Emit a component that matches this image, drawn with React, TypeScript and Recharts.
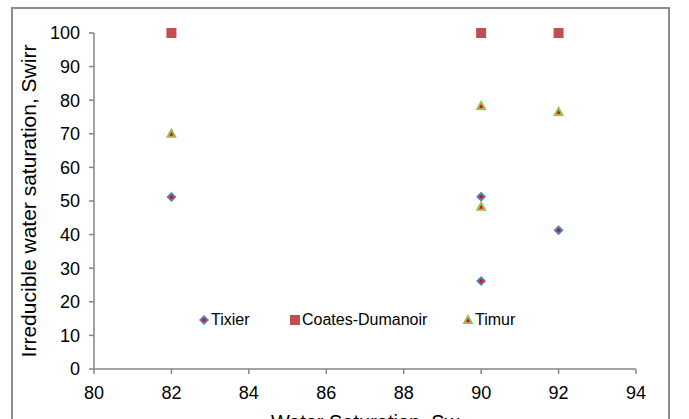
import { ScatterChart, Scatter, XAxis, YAxis, Label } from "recharts";

const tixier = [
  { x: 82, y: 51.2 },
  { x: 90, y: 51.3 },
  { x: 90, y: 26.2 },
  { x: 92, y: 41.3 },
];
const coates = [
  { x: 82, y: 100 },
  { x: 90, y: 100 },
  { x: 92, y: 100 },
];
const timur = [
  { x: 82, y: 70 },
  { x: 90, y: 78.3 },
  { x: 90, y: 48.3 },
  { x: 92, y: 76.5 },
];
const xTicks = [80, 82, 84, 86, 88, 90, 92, 94];
const yTicks = [0, 10, 20, 30, 40, 50, 60, 70, 80, 90, 100];

const FONT = "'Liberation Sans', Arial, sans-serif";
const BLUE = "#4F81BD";
const RED = "#C0504D";
const GREEN = "#9BBB59";
const AXIS = "#868686";

const Diamond = ({ cx, cy }: any) => (
  <g>
    <path d={`M${cx},${cy - 5}L${cx + 5},${cy}L${cx},${cy + 5}L${cx - 5},${cy}Z`} fill={BLUE} />
    <circle cx={cx} cy={cy} r={1.8} fill="#FF0000" />
  </g>
);
const Square = ({ cx, cy }: any) => (
  <rect x={cx - 5} y={cy - 5} width={10} height={10} fill={RED} />
);
const Triangle = ({ cx, cy }: any) => (
  <g>
    <path d={`M${cx},${cy - 6}L${cx + 5.5},${cy + 4}L${cx - 5.5},${cy + 4}Z`} fill={GREEN} />
    <path d={`M${cx},${cy - 2}L${cx + 2},${cy + 2}L${cx - 2},${cy + 2}Z`} fill="#FF0000" />
  </g>
);

// rotated y label centred on the plot area
const YTitle = ({ viewBox }: any) => {
  const cx = 36;
  const cy = viewBox.y + viewBox.height / 2;
  return (
    <text x={cx} y={cy} transform={`rotate(-90, ${cx}, ${cy})`} textAnchor="middle" fill="#000" fontSize={21} fontFamily={FONT}>
      Irreducible water saturation, Swirr
    </text>
  );
};

const legendItems = [
  { name: "Tixier", Icon: Diamond, left: 198 },
  { name: "Coates-Dumanoir", Icon: Square, left: 289 },
  { name: "Timur", Icon: Triangle, left: 462 },
];

export default function App() {
  return (
    <div style={{ position: "fixed", left: 0, top: 0, width: 689, height: 419, background: "#fff", overflow: "hidden", fontFamily: FONT }}>
      <div style={{ position: "absolute", left: 11, top: 7, width: 655, height: 430, border: "2px solid #8c8c8c" }} />
      <ScatterChart width={689} height={419} margin={{ top: 33, right: 53, left: 34, bottom: 20 }} style={{ position: "absolute", left: 0, top: 0 }}>
        <XAxis
          type="number"
          dataKey="x"
          domain={[80, 94]}
          ticks={xTicks}
          height={30}
          stroke={AXIS}
          strokeWidth={1.5}
          tickSize={5}
          tick={{ fill: "#000", fontSize: 18, fontFamily: FONT }}
          tickMargin={12}
        >
          <Label value="Water Saturation, Sw" position="insideBottom" offset={-30} fill="#000" fontSize={20} fontFamily={FONT} />
        </XAxis>
        <YAxis
          type="number"
          dataKey="y"
          domain={[0, 100]}
          ticks={yTicks}
          width={60}
          stroke={AXIS}
          strokeWidth={1.5}
          tickSize={5}
          tick={{ fill: "#000", fontSize: 18, fontFamily: FONT }}
          tickMargin={9}
        >
          <Label content={<YTitle />} />
        </YAxis>
        <Scatter name="Tixier" data={tixier} shape={Diamond} isAnimationActive={false} />
        <Scatter name="Coates-Dumanoir" data={coates} shape={Square} isAnimationActive={false} />
        <Scatter name="Timur" data={timur} shape={Triangle} isAnimationActive={false} />
      </ScatterChart>
      {legendItems.map(({ name, Icon, left }) => (
        <div key={name} style={{ position: "absolute", left, top: 311, display: "flex", alignItems: "center", fontSize: 16, color: "#000" }}>
          <svg width={12} height={14} style={{ marginRight: 1 }}>
            <Icon cx={6} cy={7} />
          </svg>
          {name}
        </div>
      ))}
    </div>
  );
}
